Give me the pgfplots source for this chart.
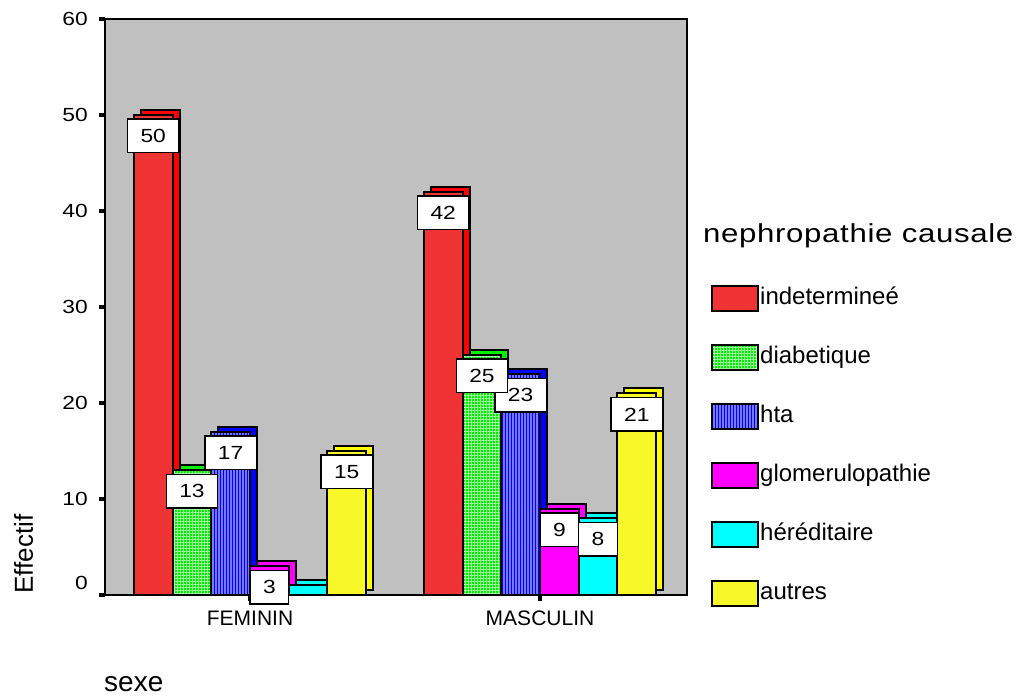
\documentclass[border=0pt]{standalone}
\usepackage{fontspec}
\setmainfont{Liberation Sans}
\newfontfamily\stretchfont{Liberation Sans}[FakeStretch=1.2]
\newfontfamily\titlefont{Liberation Sans}[FakeStretch=1.2,LetterSpace=2.5]
\usepackage{pgfplots}
\pgfplotsset{compat=1.18}
\usetikzlibrary{patterns.meta}
\definecolor{bg}{RGB}{192,192,192}
\definecolor{cRed}{RGB}{240,52,52}
\definecolor{cRedS}{RGB}{255,0,0}
\definecolor{cGreen}{RGB}{0,240,0}
\definecolor{cGreenL}{RGB}{170,255,170}
\definecolor{cBlue}{RGB}{0,0,255}
\definecolor{cBlueL}{RGB}{120,120,255}
\definecolor{cMag}{RGB}{255,0,255}
\definecolor{cCyan}{RGB}{0,255,255}
\definecolor{cYel}{RGB}{255,255,0}
\definecolor{cYelF}{RGB}{248,248,40}
\newcommand\tickfont{\stretchfont\fontsize{19}{22}\selectfont}
\newcommand\xtickfont{\fontsize{21}{24}\selectfont}
\newcommand\legfont{\fontsize{24}{28}\selectfont}
\newcommand\legbox[1]{\addlegendimage{legend image code/.code={\draw[#1,draw=black,line width=2pt] (0pt,-12.5pt) rectangle (46pt,12.5pt);}}}
\pgfplotsset{
  bar3d/.style 2 args={fill=#1, draw=black, line width=2pt,
    preaction={fill=#2, draw=black, line width=2pt, transform canvas={shift={(7pt,5pt)}}}},
  lbl/.style={forget plot, draw=none, fill=none, bar shift=#1, nodes near coords,
    every node near coord/.append style={font=\tickfont, text=black, fill=white, draw=black,
      line width=1.5pt, anchor=north, yshift=-3.5pt, inner xsep=13pt, inner ysep=10pt,
      text height=13.5pt, text depth=0pt}},
}
\begin{document}
\begin{tikzpicture}
\useasboundingbox (-105pt,-101pt) rectangle (918pt,595pt);
\begin{axis}[
  at={(0pt,0pt)}, anchor=south west,
  x=290pt, y=9.6pt,
  xmin=-0.5, xmax=1.507, ymin=0, ymax=60,
  axis background/.style={fill=bg},
  axis line style={line width=2pt, black},
  ybar, bar width=38.7pt,
  xtick={0,1}, xticklabels={FEMININ,MASCULIN},
  ytick={0,10,20,30,40,50,60},
  yticklabels={\smash{\raisebox{5.4pt}{0}},10,20,30,40,50,60},
  tick pos=left, tick align=outside,
  major tick length=6pt,
  tick style={line width=4pt, black},
  /pgf/number format/assume math mode=true,
  yticklabel style={font=\tickfont, inner sep=0pt, xshift=-11pt},
  xticklabel style={font=\xtickfont, inner sep=0pt, yshift=-10pt},
  legend style={at={(1.0412,0.539)}, anchor=north west, draw=none, fill=none,
    inner sep=0pt, row sep=32pt, column sep=1pt, font=\legfont,
    nodes={inner sep=0pt, text height=18pt, text depth=5pt}},
  legend cell align=left,
]
% bars
\addplot[forget plot, bar shift=-96.75pt, bar3d={cRed}{cRedS}] coordinates {(0,50) (1,42)};
\addplot[forget plot, bar shift=-58.05pt, bar3d={cGreen}{cGreen},
  postaction={draw=black, line width=2pt, pattern={Hatch[angle=0,distance=3pt,line width=1pt]}, pattern color=cGreenL}] coordinates {(0,13) (1,25)};
\addplot[forget plot, bar shift=-19.35pt, bar3d={cBlue}{cBlue},
  postaction={draw=black, line width=2pt, pattern={Lines[angle=90,distance=3pt,line width=1.2pt]}, pattern color=cBlueL}] coordinates {(0,17) (1,23)};
\addplot[forget plot, bar shift=19.35pt, bar3d={cMag}{cMag}] coordinates {(0,3) (1,9)};
\addplot[forget plot, bar shift=58.05pt, bar3d={cCyan}{cCyan}] coordinates {(0,1) (1,8)};
\addplot[forget plot, bar shift=96.75pt, bar3d={cYelF}{cYel}] coordinates {(0,15) (1,21)};
% value labels
\addplot[lbl=96.75pt] coordinates {(0,15) (1,21)};
\addplot[lbl=58.05pt] coordinates {(1,8)};
\addplot[lbl=19.35pt] coordinates {(0,3) (1,9)};
\addplot[lbl=-19.35pt] coordinates {(0,17) (1,23)};
\addplot[lbl=-58.05pt] coordinates {(0,13) (1,25)};
\addplot[lbl=-96.75pt] coordinates {(0,50) (1,42)};
% legend
\legbox{fill=cRed}\addlegendentry{indetermineé}
\legbox{fill=cGreen, postaction={pattern={Hatch[angle=0,distance=3pt,line width=1pt]}, pattern color=cGreenL}}\addlegendentry{diabetique}
\legbox{fill=cBlue, postaction={pattern={Lines[angle=90,distance=3pt,line width=1.2pt]}, pattern color=cBlueL}}\addlegendentry{hta}
\legbox{fill=cMag}\addlegendentry{glomerulopathie}
\legbox{fill=cCyan}\addlegendentry{héréditaire}
\legbox{fill=cYelF}\addlegendentry{autres}
\end{axis}
\node[anchor=base west, font=\titlefont\fontsize{26}{30}\selectfont, inner sep=0pt] at (598pt,352pt) {nephropathie causale};
\node[anchor=base, rotate=90, font=\fontsize{26}{30}\selectfont, inner sep=0pt] at (-72pt,41pt) {Effectif};
\node[anchor=base west, font=\fontsize{28}{32}\selectfont, inner sep=0pt] at (-1pt,-96pt) {sexe};
\end{tikzpicture}
\end{document}
